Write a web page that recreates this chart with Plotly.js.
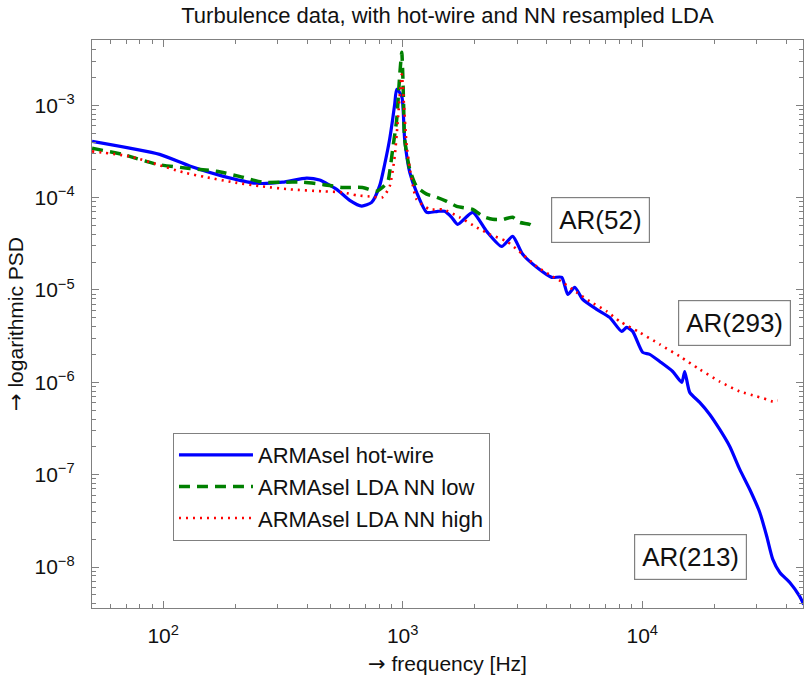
<!DOCTYPE html>
<html>
<head>
<meta charset="utf-8">
<script src="https://cdn.plot.ly/plotly-3.0.1.min.js"></script>
<style>html,body{margin:0;padding:0;background:#fff;}#chart{width:804px;height:678px;}</style>
</head>
<body>
<div id="chart"></div>
<script>
// ---- data ----
const seriesNames = ["ARMAsel hot-wire", "ARMAsel LDA NN low", "ARMAsel LDA NN high"];

const freqHotWire = [50.5, 96.7, 129, 177, 245, 315, 397, 450, 530, 601, 674, 742, 801, 841, 882, 908, 926, 944, 991, 1019, 1070, 1143, 1259, 1400, 1497, 1601, 1696, 1959, 2242, 2589, 2878, 3170, 3625, 4188, 4613, 4888, 5227, 5641, 6452, 7311, 8203, 8610, 9120, 10040, 10740, 11830, 13400, 14620, 15040, 15780, 17370, 19130, 21060, 23190, 25530, 28110, 30940, 33100, 35070, 37520, 41290, 45420, 47200];
const psdHotWire = [4.07e-4, 2.94e-4, 2.20e-4, 1.71e-4, 1.43e-4, 1.47e-4, 1.63e-4, 1.55e-4, 1.23e-4, 9.35e-5, 8.11e-5, 8.89e-5, 1.34e-4, 2.30e-4, 4.28e-4, 7.05e-4, 1.03e-3, 1.49e-3, 1.25e-3, 4.28e-4, 1.88e-4, 1.14e-4, 6.93e-5, 7.11e-5, 7.11e-5, 6.12e-5, 5.14e-5, 6.93e-5, 4.31e-5, 2.96e-5, 3.81e-5, 2.43e-5, 1.76e-5, 1.37e-5, 1.37e-5, 8.95e-6, 1.07e-5, 7.91e-6, 6.17e-6, 5.05e-6, 3.56e-6, 3.93e-6, 3.56e-6, 2.11e-6, 2.01e-6, 1.68e-6, 1.31e-6, 9.98e-7, 1.31e-6, 7.78e-7, 6.06e-7, 4.49e-7, 3.09e-7, 2.02e-7, 1.14e-7, 6.91e-8, 3.90e-8, 2.14e-8, 1.21e-8, 8.71e-9, 6.79e-9, 4.80e-9, 3.93e-9];

const freqNNLow = [50.5, 67.8, 93.9, 129, 167, 208, 260, 315, 382, 463, 561, 680, 778, 865, 882, 908, 944, 971, 991, 1000, 1009, 1019, 1070, 1143, 1259, 1387, 1527, 1680, 1959, 2158, 2376, 2615, 2878, 3077, 3388, 3625];
const psdNNLow = [3.42e-4, 2.94e-4, 2.30e-4, 2.07e-4, 1.93e-4, 1.70e-4, 1.47e-4, 1.47e-4, 1.47e-4, 1.39e-4, 1.29e-4, 1.29e-4, 1.17e-4, 1.47e-4, 1.88e-4, 3.33e-4, 7.05e-4, 2.06e-3, 3.75e-3, 2.28e-3, 9.75e-4, 4.28e-4, 2.03e-4, 1.32e-4, 1.09e-4, 1.01e-4, 9.12e-5, 8.05e-5, 7.46e-5, 6.27e-5, 5.82e-5, 5.82e-5, 6.12e-5, 5.40e-5, 5.14e-5, 4.65e-5];

const freqNNHigh = [50.5, 72.4, 93.9, 121, 152, 195, 260, 337, 463, 561, 643, 728, 824, 882, 926, 953, 991, 1009, 1040, 1090, 1143, 1297, 1469, 1730, 2037, 2307, 2717, 3170, 3625, 4227, 4656, 5324, 6040, 7110, 8060, 9750, 11830, 14330, 17370, 21060, 25530, 30060, 33100, 35070, 36800];
const psdNNHigh = [3.17e-4, 2.80e-4, 2.30e-4, 1.88e-4, 1.66e-4, 1.47e-4, 1.32e-4, 1.23e-4, 1.17e-4, 1.14e-4, 1.06e-4, 1.03e-4, 1.01e-4, 1.32e-4, 2.80e-4, 6.55e-4, 2.17e-3, 1.16e-3, 3.60e-4, 1.58e-4, 9.59e-5, 7.46e-5, 7.46e-5, 6.12e-5, 4.76e-5, 4.00e-5, 3.36e-5, 2.43e-5, 1.80e-5, 1.40e-5, 1.21e-5, 9.42e-6, 7.53e-6, 5.86e-6, 4.57e-6, 3.47e-6, 2.58e-6, 1.91e-6, 1.38e-6, 1.02e-6, 7.96e-7, 7.03e-7, 6.53e-7, 6.21e-7, 6.36e-7];

const xTickVals = [100, 1000, 10000];
const xTickText = ["10<sup>2</sup>", "10<sup>3</sup>", "10<sup>4</sup>"];
const yTickVals = [1e-8, 1e-7, 1e-6, 1e-5, 1e-4, 1e-3];
const yTickText = ["10<sup>−8</sup>", "10<sup>−7</sup>", "10<sup>−6</sup>", "10<sup>−5</sup>", "10<sup>−4</sup>", "10<sup>−3</sup>"];
const arLabels = ["AR(52)", "AR(293)", "AR(213)"];

// minor tick positions (2..9 within each decade)
function minorTicks(e0, e1) {
  const out = [];
  for (let e = e0; e <= e1; e++) for (let m = 2; m <= 9; m++) out.push(m * Math.pow(10, e));
  return out;
}

const FONT = "Liberation Sans, Arial, Helvetica, sans-serif";
const ARROW = '<span style="font-family:DejaVu Sans">→</span>';
const AX = "#808080";

const traces = [
  {x: freqHotWire, y: psdHotWire, name: seriesNames[0], type: "scatter", mode: "lines",
   line: {color: "#0000ff", width: 3.2, shape: "spline", smoothing: 0.6}},
  {x: freqNNLow, y: psdNNLow, name: seriesNames[1], type: "scatter", mode: "lines",
   line: {color: "#008000", width: 3.5, dash: "11px,7px", shape: "spline", smoothing: 0.6}},
  {x: freqNNHigh, y: psdNNHigh, name: seriesNames[2], type: "scatter", mode: "lines",
   line: {color: "#ff0000", width: 2.6, dash: "2px,5px", shape: "spline", smoothing: 0.6}}
];

const axisCommon = {
  type: "log", showgrid: false, zeroline: false,
  showline: true, linecolor: AX, linewidth: 1.2, mirror: "ticks",
  ticks: "inside", ticklen: 7, tickwidth: 1, tickcolor: AX,
  tickmode: "array",
  tickfont: {family: FONT, size: 21, color: "#111"}
};

const arBox = (text, x, y) => ({
  text: text, xref: "paper", yref: "paper", x: x, y: y, xanchor: "center", yanchor: "middle",
  showarrow: false, font: {family: FONT, size: 26, color: "#111"},
  bordercolor: AX, borderwidth: 1.2, borderpad: 7, bgcolor: "#fff"
});

const layout = {
  width: 804, height: 678,
  margin: {l: 92, r: 1, t: 40, b: 70},
  paper_bgcolor: "#fff", plot_bgcolor: "#fff",
  font: {family: FONT, color: "#111"},
  title: {text: "Turbulence data, with hot-wire and NN resampled LDA",
          font: {family: FONT, size: 22, color: "#111"},
          x: 0.5565, xanchor: "center", y: 0.978, yanchor: "middle"},
  xaxis: Object.assign({}, axisCommon, {
    range: [1.703, 4.671],
    tickvals: xTickVals, ticktext: xTickText,
    ticklabelstandoff: 9,
    minor: {tickmode: "array", tickvals: minorTicks(1, 4), ticks: "inside", ticklen: 4, tickcolor: AX, tickwidth: 1},
    title: {text: ARROW + " frequency [Hz]", font: {family: FONT, size: 21, color: "#111"}, standoff: 9}
  }),
  yaxis: Object.assign({}, axisCommon, {
    range: [-8.444, -2.293],
    tickvals: yTickVals, ticktext: yTickText,
    ticklabelstandoff: 12,
    minor: {tickmode: "array", tickvals: minorTicks(-9, -3), ticks: "inside", ticklen: 4, tickcolor: AX, tickwidth: 1},
    title: {text: ARROW + " logarithmic PSD", font: {family: FONT, size: 21, color: "#111"}, standoff: 5}
  }),
  showlegend: true,
  legend: {
    x: 0.1136, y: 0.3084, xanchor: "left", yanchor: "top",
    bgcolor: "#fff", bordercolor: AX, borderwidth: 1.2,
    font: {family: FONT, size: 22, color: "#111"},
    itemwidth: 74, tracegroupgap: 0
  },
  annotations: [
    arBox(arLabels[0], 0.7158, 0.6837),
    arBox(arLabels[1], 0.9036, 0.5022),
    arBox(arLabels[2], 0.8417, 0.0899)
  ]
};

Plotly.newPlot("chart", traces, layout, {displayModeBar: false, staticPlot: true});
</script>
</body>
</html>
